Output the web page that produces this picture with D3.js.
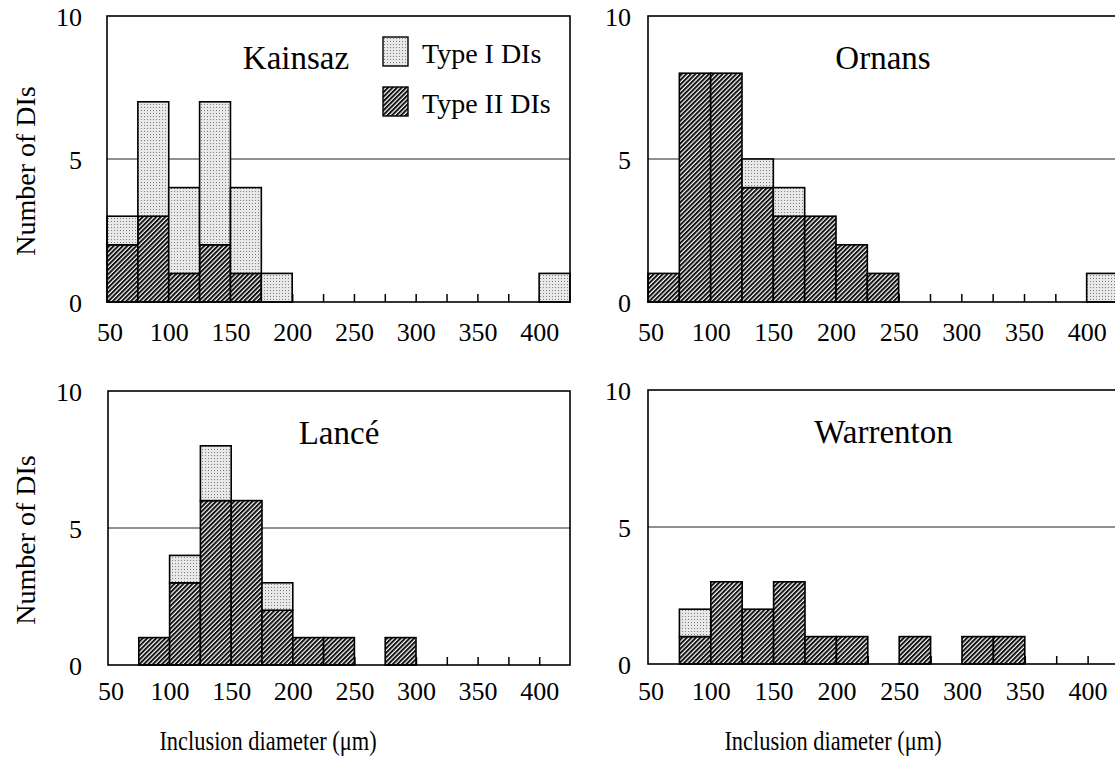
<!DOCTYPE html>
<html>
<head>
<meta charset="utf-8">
<script src="https://cdn.jsdelivr.net/npm/d3@7"></script>
<style>
  body { margin: 0; background: #fff; }
  svg text { font-family: "Liberation Serif", "Times New Roman", serif; fill: #000; }
</style>
</head>
<body>
<svg id="chart" width="1115" height="766"></svg>
<script>
// bins of 25 um, left edges
const binStarts = [50, 75, 100, 125, 150, 175, 200, 225, 250, 275, 300, 325, 350, 375, 400];
const xTickLabels = [50, 100, 150, 200, 250, 300, 350, 400];
const yTickLabels = [0, 5, 10];

// counts per bin (Type II is the lower, hatched part)
const kainsazTypeII   = [2, 3, 1, 2, 1, 0, 0, 0, 0, 0, 0, 0, 0, 0, 0];
const kainsazTypeI    = [1, 4, 3, 5, 3, 1, 0, 0, 0, 0, 0, 0, 0, 0, 1];
const ornansTypeII    = [1, 8, 8, 4, 3, 3, 2, 1, 0, 0, 0, 0, 0, 0, 0];
const ornansTypeI     = [0, 0, 0, 1, 1, 0, 0, 0, 0, 0, 0, 0, 0, 0, 1];
const lanceTypeII     = [0, 1, 3, 6, 6, 2, 1, 1, 0, 1, 0, 0, 0, 0, 0];
const lanceTypeI      = [0, 0, 1, 2, 0, 1, 0, 0, 0, 0, 0, 0, 0, 0, 0];
const warrentonTypeII = [0, 1, 3, 2, 3, 1, 1, 0, 1, 0, 1, 1, 0, 0, 0];
const warrentonTypeI  = [0, 1, 0, 0, 0, 0, 0, 0, 0, 0, 0, 0, 0, 0, 0];

const panelNames = ["Kainsaz", "Ornans", "Lancé", "Warrenton"];
const legendLabels = ["Type I DIs", "Type II DIs"];

const svg = d3.select("#chart");
const defs = svg.append("defs");

// stipple for Type I
const dots = defs.append("pattern").attr("id", "dots")
  .attr("patternUnits", "userSpaceOnUse").attr("width", 3).attr("height", 3);
dots.append("rect").attr("width", 3).attr("height", 3).attr("fill", "#e8e8e8");
dots.append("rect").attr("x", 1).attr("y", 1).attr("width", 1).attr("height", 1).attr("fill", "#808080");

// diagonal hatch for Type II
const hatch = defs.append("pattern").attr("id", "hatch")
  .attr("patternUnits", "userSpaceOnUse").attr("width", 3.2).attr("height", 3.2)
  .attr("patternTransform", "rotate(45)");
hatch.append("rect").attr("width", 3.2).attr("height", 3.2).attr("fill", "#fff");
hatch.append("line").attr("x1", 1).attr("x2", 1).attr("y1", 0).attr("y2", 3.2)
  .attr("stroke", "#111").attr("stroke-width", 2);

const panels = [
  { name: panelNames[0], typeI: kainsazTypeI, typeII: kainsazTypeII, left: 107, top: 16, width: 463, height: 286, titleX: 296, labelOff: 39, yLabRight: 82 },
  { name: panelNames[1], typeI: ornansTypeI, typeII: ornansTypeII, left: 648, top: 16, width: 470, height: 286, titleX: null, labelOff: 39, yLabRight: 631 },
  { name: panelNames[2], typeI: lanceTypeI, typeII: lanceTypeII, left: 108, top: 391, width: 462, height: 274, titleX: null, labelOff: 35, yLabRight: 82 },
  { name: panelNames[3], typeI: warrentonTypeI, typeII: warrentonTypeII, left: 648, top: 390, width: 471, height: 274, titleX: null, labelOff: 36, yLabRight: 631 }
];

const binW = 25;

panels.forEach((p, i) => {
  const g = svg.append("g").attr("transform", `translate(${p.left},${p.top})`);
  const x = d3.scaleLinear().domain([50, 425]).range([0, p.width]);
  const y = d3.scaleLinear().domain([0, 10]).range([p.height, 0]);

  // grid line at 5
  g.append("line")
    .attr("x1", 0).attr("x2", p.width)
    .attr("y1", y(5)).attr("y2", y(5))
    .attr("stroke", "#222").attr("stroke-width", 1);

  // x axis: small upward ticks every 25, labels every 50
  const xAxis = g.append("g").attr("transform", `translate(0,${p.height})`)
    .call(d3.axisBottom(x)
      .tickValues(binStarts.slice(1))
      .tickSize(-8)
      .tickFormat(d => xTickLabels.includes(d) ? d : ""));
  xAxis.select(".domain").remove();
  xAxis.selectAll(".tick line").attr("stroke", "#000").attr("stroke-width", 1.5);
  xAxis.selectAll(".tick text")
    .attr("y", p.labelOff).attr("dy", 0)
    .style("font-size", "26px");
  // label for 50 at the left edge
  xAxis.append("text")
    .attr("x", x(50) + 3).attr("y", p.labelOff)
    .attr("text-anchor", "middle")
    .style("font-size", "26px").attr("fill", "#000")
    .text(xTickLabels[0]);

  // y labels
  const yAxis = g.append("g")
    .call(d3.axisLeft(y).tickValues(yTickLabels).tickSize(0).tickPadding(p.left - p.yLabRight));
  yAxis.select(".domain").remove();
  yAxis.selectAll(".tick text").style("font-size", "26px").attr("dy", "0.36em");

  // bars
  const bars = binStarts.map((b, k) => ({ start: b, t2: p.typeII[k], t1: p.typeI[k] }));
  g.selectAll(".b2").data(bars.filter(d => d.t2 > 0)).enter().append("rect")
    .attr("x", d => x(d.start))
    .attr("y", d => y(d.t2))
    .attr("width", d => x(d.start + binW) - x(d.start))
    .attr("height", d => y(0) - y(d.t2))
    .attr("fill", "url(#hatch)").attr("stroke", "#000").attr("stroke-width", 1.6);
  g.selectAll(".b1").data(bars.filter(d => d.t1 > 0)).enter().append("rect")
    .attr("x", d => x(d.start))
    .attr("y", d => y(d.t2 + d.t1))
    .attr("width", d => x(d.start + binW) - x(d.start))
    .attr("height", d => y(d.t2) - y(d.t2 + d.t1))
    .attr("fill", "url(#dots)").attr("stroke", "#000").attr("stroke-width", 1.6);

  // frame
  g.append("rect")
    .attr("x", 0).attr("y", 0).attr("width", p.width).attr("height", p.height)
    .attr("fill", "none").attr("stroke", "#000").attr("stroke-width", 1.6);

  // panel title
  g.append("text")
    .attr("x", p.titleX === null ? p.width / 2 : p.titleX - p.left)
    .attr("y", 53)
    .attr("text-anchor", "middle")
    .style("font-size", "33px")
    .text(p.name);

  // axis titles
  if (i % 2 === 0) {
    g.append("text")
      .attr("transform", `translate(${25 - p.left},${p.height / 2 + 12}) rotate(-90)`)
      .attr("text-anchor", "middle").attr("dy", "0.35em")
      .style("font-size", "28px")
      .text("Number of DIs");
  }
  if (i >= 2) {
    // the original lettering is narrow and tall
    g.append("text")
      .attr("transform", `translate(${(i === 2 ? 268 : 833) - p.left},${750 - p.top}) scale(0.8,1)`)
      .attr("text-anchor", "middle")
      .style("font-size", "28px")
      .text("Inclusion diameter (μm)");
  }
});

// legend in the Kainsaz panel
const legend = svg.append("g").attr("transform", "translate(383,37)");
const legendFills = ["url(#dots)", "url(#hatch)"];
legendLabels.forEach((lab, k) => {
  legend.append("rect")
    .attr("x", 0).attr("y", k * 50)
    .attr("width", 25).attr("height", 29)
    .attr("fill", legendFills[k]).attr("stroke", "#000").attr("stroke-width", 1.4);
  legend.append("text")
    .attr("x", 39).attr("y", k * 50 + 26)
    .style("font-size", "28px")
    .text(lab);
});
</script>
</body>
</html>
